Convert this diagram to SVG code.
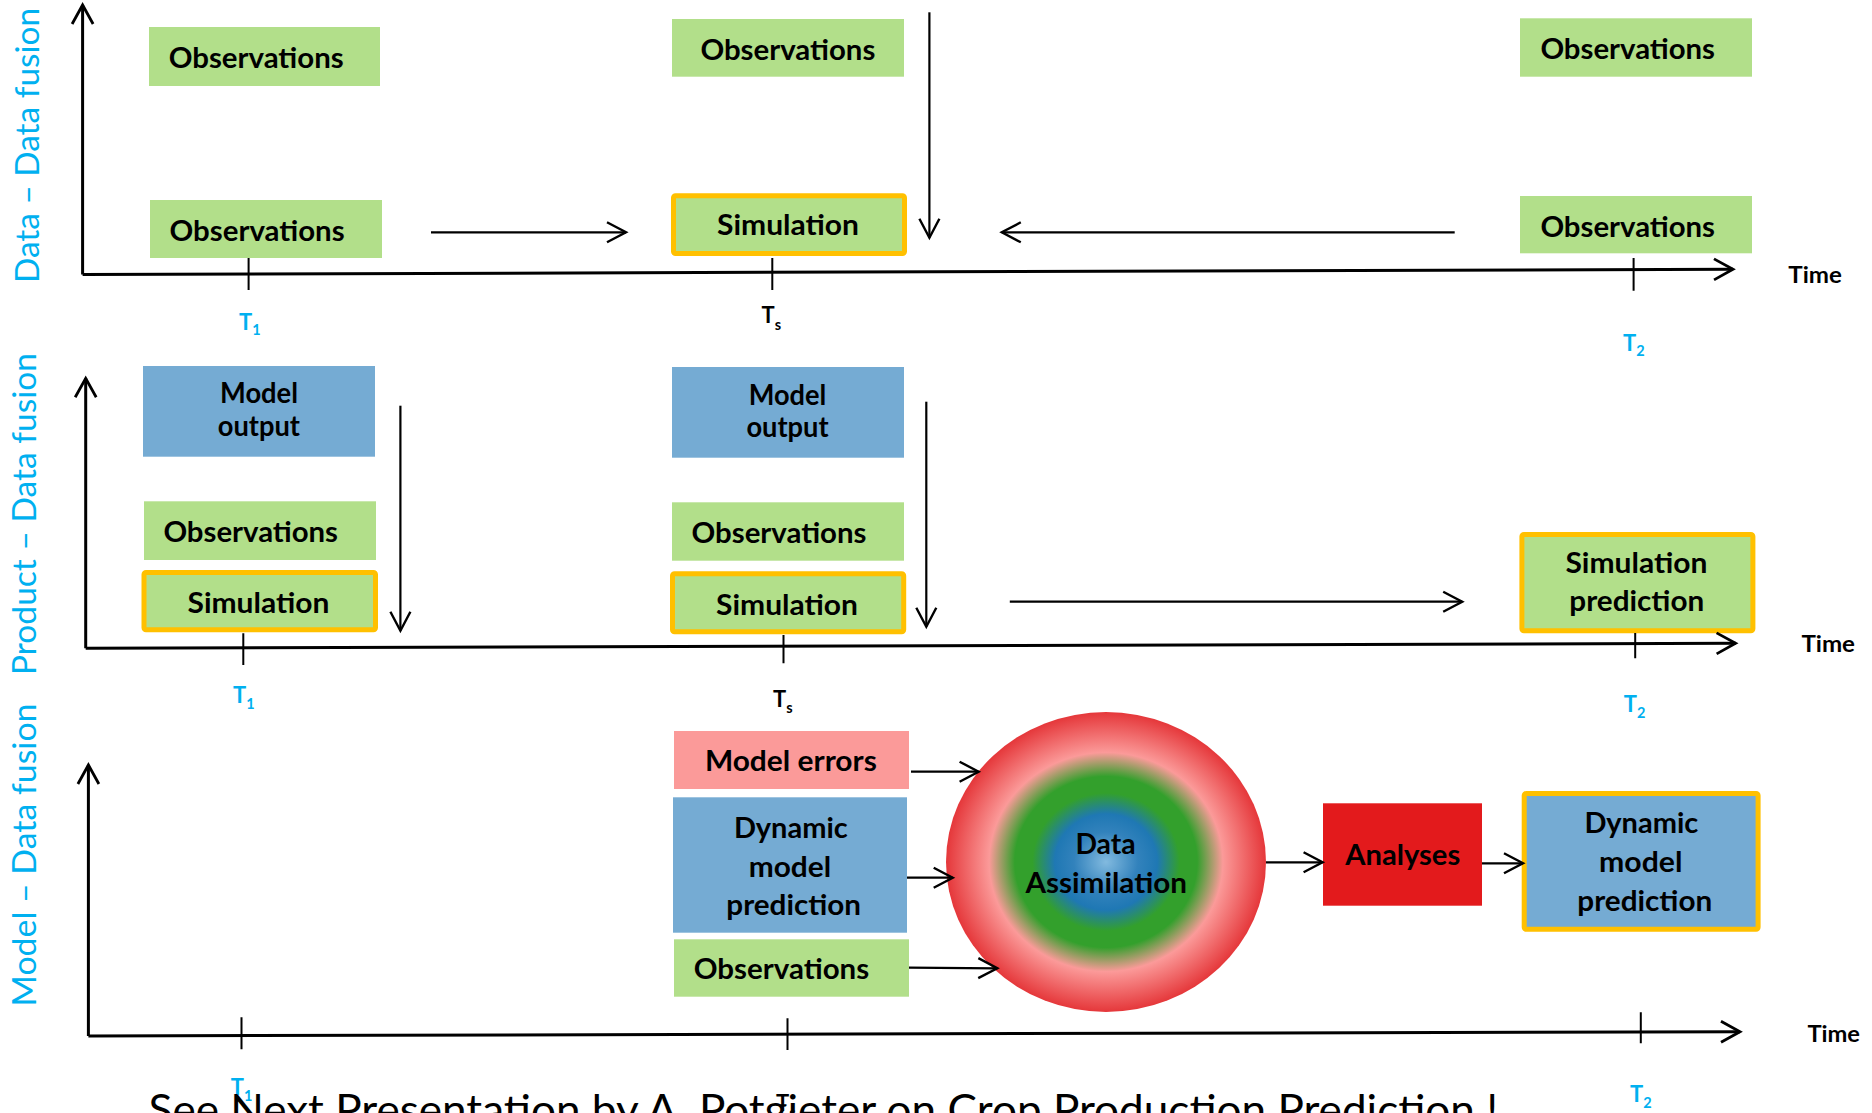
<svg xmlns="http://www.w3.org/2000/svg" width="1872" height="1113" viewBox="0 0 1872 1113">
<style>
text{font-family:Lato,"Liberation Sans",sans-serif}
.lbl{font-weight:700;font-size:28px;fill:#000}
.vl{font-size:33.5px;fill:#00B0F0;text-anchor:middle}
.tb{font-weight:700;font-size:22px;fill:#00B0F0}
.ts{font-weight:700;font-size:22px;fill:#000}
.sub{font-size:14.5px}
.time{font-weight:700;font-size:22.5px;fill:#000}
.g{fill:#B2DF8A}
.b{fill:#75ABD3}
.p{fill:#FB9A99}
.r{fill:#E31A1C}
.o{stroke:#FFC000;stroke-width:5}
.ax{stroke:#000;stroke-width:3;fill:none}
.ar{stroke:#000;stroke-width:2.2;fill:none}
.tk{stroke:#000;stroke-width:2;fill:none}
</style>
<defs>
<marker id="ah" viewBox="-24 -12 26 24" refX="0" refY="0" markerWidth="26" markerHeight="24" markerUnits="userSpaceOnUse" orient="auto" overflow="visible">
<path d="M-19,-10 L0,0 L-19,10" fill="none" stroke="#000" stroke-width="2.4"/>
</marker>
<marker id="ahx" viewBox="-24 -12 26 24" refX="0" refY="0" markerWidth="26" markerHeight="24" markerUnits="userSpaceOnUse" orient="auto" overflow="visible">
<path d="M-19,-10.5 L0,0 L-19,10.5" fill="none" stroke="#000" stroke-width="2.8"/>
</marker>
<radialGradient id="da" cx="0.5" cy="0.5" r="0.5">
<stop offset="0" stop-color="#82BADF"/>
<stop offset="0.2" stop-color="#3282BC"/>
<stop offset="0.32" stop-color="#1F78B4"/>
<stop offset="0.46" stop-color="#33A02C"/>
<stop offset="0.57" stop-color="#33A02C"/>
<stop offset="0.73" stop-color="#FB9A99"/>
<stop offset="1" stop-color="#E5373A"/>
</radialGradient>
</defs>

<!-- side labels -->
<g id="label-data-data">
<text class="vl" transform="translate(38.8,145.5) rotate(-90)" textLength="275" lengthAdjust="spacingAndGlyphs">Data – Data fusion</text>
</g>
<g id="label-product-data">
<text class="vl" transform="translate(36,514) rotate(-90)" textLength="322" lengthAdjust="spacingAndGlyphs">Product – Data fusion</text>
</g>
<g id="label-model-data">
<text class="vl" transform="translate(36,855) rotate(-90)" textLength="303" lengthAdjust="spacingAndGlyphs">Model – Data fusion</text>
</g>

<!-- Panel 1 nodes -->
<g id="p1-obs-t1-top">
<rect class="g" x="149" y="27" width="231" height="59"/>
<text class="lbl" x="168.7" y="68" textLength="175" lengthAdjust="spacingAndGlyphs">Observations</text>
</g>
<g id="p1-obs-t1">
<rect class="g" x="150" y="200" width="232" height="58"/>
<text class="lbl" x="169.6" y="240.5" textLength="175" lengthAdjust="spacingAndGlyphs">Observations</text>
</g>
<g id="p1-obs-ts-top">
<rect class="g" x="672" y="19" width="232" height="57.7"/>
<text class="lbl" x="700.4" y="60" textLength="175" lengthAdjust="spacingAndGlyphs">Observations</text>
</g>
<g id="p1-sim-ts">
<rect class="g o" x="673.5" y="195.8" width="231" height="57.7" rx="2"/>
<text class="lbl" x="717" y="235" textLength="142" lengthAdjust="spacingAndGlyphs">Simulation</text>
</g>
<g id="p1-obs-t2-top">
<rect class="g" x="1520" y="18.3" width="232" height="58.4"/>
<text class="lbl" x="1540.4" y="59.3" textLength="174.6" lengthAdjust="spacingAndGlyphs">Observations</text>
</g>
<g id="p1-obs-t2">
<rect class="g" x="1520" y="196" width="232" height="57.3"/>
<text class="lbl" x="1540.4" y="237.3" textLength="174.6" lengthAdjust="spacingAndGlyphs">Observations</text>
</g>
<g id="p1-ticks">
<text class="tb" x="239" y="330">T<tspan class="sub" dy="5">1</tspan></text>
<text class="ts" x="761.6" y="323.3">T<tspan class="sub" dy="6.5">s</tspan></text>
<text class="tb" x="1623" y="350.7">T<tspan class="sub" dy="5.5">2</tspan></text>
<text class="time" x="1788.3" y="282.7" textLength="53.6" lengthAdjust="spacingAndGlyphs">Time</text>
</g>

<!-- Panel 2 nodes -->
<g id="p2-model-t1">
<rect class="b" x="143" y="366" width="232" height="90.7"/>
<text class="lbl" x="220" y="403.3" font-size="26" textLength="78" lengthAdjust="spacingAndGlyphs">Model</text>
<text class="lbl" x="217.8" y="435.5" font-size="26" textLength="82.2" lengthAdjust="spacingAndGlyphs">output</text>
</g>
<g id="p2-obs-t1">
<rect class="g" x="144" y="501.3" width="232" height="58.7"/>
<text class="lbl" x="163.4" y="541.7" textLength="174.6" lengthAdjust="spacingAndGlyphs">Observations</text>
</g>
<g id="p2-sim-t1">
<rect class="g o" x="144" y="572.5" width="231.5" height="57.3" rx="2"/>
<text class="lbl" x="187.5" y="612.7" textLength="141.9" lengthAdjust="spacingAndGlyphs">Simulation</text>
</g>
<g id="p2-model-ts">
<rect class="b" x="672" y="367" width="232" height="90.7"/>
<text class="lbl" x="748.7" y="405" font-size="26" textLength="77.6" lengthAdjust="spacingAndGlyphs">Model</text>
<text class="lbl" x="746.4" y="437" font-size="26" textLength="82.2" lengthAdjust="spacingAndGlyphs">output</text>
</g>
<g id="p2-obs-ts">
<rect class="g" x="672" y="502.3" width="232" height="58.4"/>
<text class="lbl" x="691.5" y="543.3" textLength="175" lengthAdjust="spacingAndGlyphs">Observations</text>
</g>
<g id="p2-sim-ts">
<rect class="g o" x="672.5" y="573.8" width="231.2" height="58" rx="2"/>
<text class="lbl" x="716" y="615" textLength="142" lengthAdjust="spacingAndGlyphs">Simulation</text>
</g>
<g id="p2-sim-pred">
<rect class="g o" x="1521.9" y="534.5" width="231" height="96.3" rx="2"/>
<text class="lbl" x="1565.4" y="573.3" textLength="142" lengthAdjust="spacingAndGlyphs">Simulation</text>
<text class="lbl" x="1569.3" y="611" textLength="134.9" lengthAdjust="spacingAndGlyphs">prediction</text>
</g>
<g id="p2-ticks">
<text class="tb" x="233" y="702.7">T<tspan class="sub" dy="6.5">1</tspan></text>
<text class="ts" x="773" y="706.7">T<tspan class="sub" dy="6.5">s</tspan></text>
<text class="tb" x="1623.7" y="711.7">T<tspan class="sub" dy="6.5">2</tspan></text>
<text class="time" x="1801.4" y="651.7" textLength="53.6" lengthAdjust="spacingAndGlyphs">Time</text>
</g>

<!-- Panel 3 nodes -->
<g id="p3-model-errors">
<rect class="p" x="674" y="731" width="235" height="58"/>
<text class="lbl" x="704.9" y="771" textLength="171.9" lengthAdjust="spacingAndGlyphs">Model errors</text>
</g>
<g id="p3-dyn-ts">
<rect class="b" x="673" y="797.3" width="234" height="135.4"/>
<text class="lbl" x="733.9" y="838.3" textLength="113.9" lengthAdjust="spacingAndGlyphs">Dynamic</text>
<text class="lbl" x="748.7" y="876.7" textLength="82.5" lengthAdjust="spacingAndGlyphs">model</text>
<text class="lbl" x="726.3" y="915" textLength="134.8" lengthAdjust="spacingAndGlyphs">prediction</text>
</g>
<g id="p3-obs-ts">
<rect class="g" x="674" y="939.3" width="235" height="57.4"/>
<text class="lbl" x="693.7" y="979.3" textLength="175.5" lengthAdjust="spacingAndGlyphs">Observations</text>
</g>
<g id="p3-data-assim">
<ellipse cx="1106" cy="862" rx="160" ry="150" fill="url(#da)"/>
<text class="lbl" x="1075.4" y="854" textLength="60.3" lengthAdjust="spacingAndGlyphs">Data</text>
<text class="lbl" x="1025.4" y="892.7" textLength="161.6" lengthAdjust="spacingAndGlyphs">Assimilation</text>
</g>
<g id="p3-analyses">
<rect class="r" x="1323" y="803.3" width="159" height="102.4"/>
<text class="lbl" x="1345.2" y="865" textLength="115.1" lengthAdjust="spacingAndGlyphs">Analyses</text>
</g>
<g id="p3-dyn-t2">
<rect class="b o" x="1524.2" y="793.5" width="233.9" height="135.7" rx="2"/>
<text class="lbl" x="1584.4" y="833.3" textLength="113.9" lengthAdjust="spacingAndGlyphs">Dynamic</text>
<text class="lbl" x="1599" y="871.7" textLength="83.4" lengthAdjust="spacingAndGlyphs">model</text>
<text class="lbl" x="1577.3" y="910.7" textLength="134.9" lengthAdjust="spacingAndGlyphs">prediction</text>
</g>
<g id="p3-ticks">
<text class="tb" x="230.8" y="1095">T<tspan class="sub" dy="6">1</tspan></text>
<text class="tb" x="1630" y="1101.7">T<tspan class="sub" dy="6.5">2</tspan></text>
<text class="time" x="1807.4" y="1041.7" textLength="52.6" lengthAdjust="spacingAndGlyphs">Time</text>
</g>

<!-- footer -->
<g id="footer">
<text x="148.6" y="1125" font-size="43" fill="#000" textLength="1349.5" lengthAdjust="spacingAndGlyphs">See Next Presentation by A. Potgieter on Crop Production Prediction !</text>
<text class="ts" x="776" y="1111">T<tspan class="sub" dy="6.5">s</tspan></text>
</g>

<!-- connectors -->
<g id="connectors">
<path class="ax" d="M82.6,274.5 L82.6,5" marker-end="url(#ahx)"/>
<path class="ax" d="M82.6,274.5 L1733,269.3" marker-end="url(#ahx)"/>
<path class="tk" d="M248.6,258 V290 M772.3,258 V290 M1633.6,258 V290.7"/>
<path class="ar" d="M431,232.3 L626,232.3" marker-end="url(#ah)"/>
<path class="ar" d="M929.4,12.3 L929.4,237.7" marker-end="url(#ah)"/>
<path class="ar" d="M1454.7,232.3 L1001.8,232.3" marker-end="url(#ah)"/>

<path class="ax" d="M85.7,648.3 L85.7,378.3" marker-end="url(#ahx)"/>
<path class="ax" d="M85.7,648.3 L1735.6,643.3" marker-end="url(#ahx)"/>
<path class="tk" d="M243.3,633.3 V665 M783.5,635 V663.3 M1635.2,633 V658.3"/>
<path class="ar" d="M400.4,405.7 L400.4,630.7" marker-end="url(#ah)"/>
<path class="ar" d="M926.3,401.7 L926.3,626.7" marker-end="url(#ah)"/>
<path class="ar" d="M1009.8,601.7 L1462.2,601.7" marker-end="url(#ah)"/>

<path class="ax" d="M88.4,1036 L88.4,765" marker-end="url(#ahx)"/>
<path class="ax" d="M88.4,1036 L1740,1031.7" marker-end="url(#ahx)"/>
<path class="tk" d="M241.5,1017.3 V1049.3 M787.5,1018.3 V1050 M1640.8,1012.3 V1043.3"/>
<path class="ar" d="M911,771.7 L978.6,771.7" marker-end="url(#ah)"/>
<path class="ar" d="M907,877.7 L952.7,877.7" marker-end="url(#ah)"/>
<path class="ar" d="M909,967.7 L997.3,968.3" marker-end="url(#ah)"/>
<path class="ar" d="M1266,862.3 L1322.6,862.3" marker-end="url(#ah)"/>
<path class="ar" d="M1482,863.3 L1523,863.3" marker-end="url(#ah)"/>
</g>
</svg>
